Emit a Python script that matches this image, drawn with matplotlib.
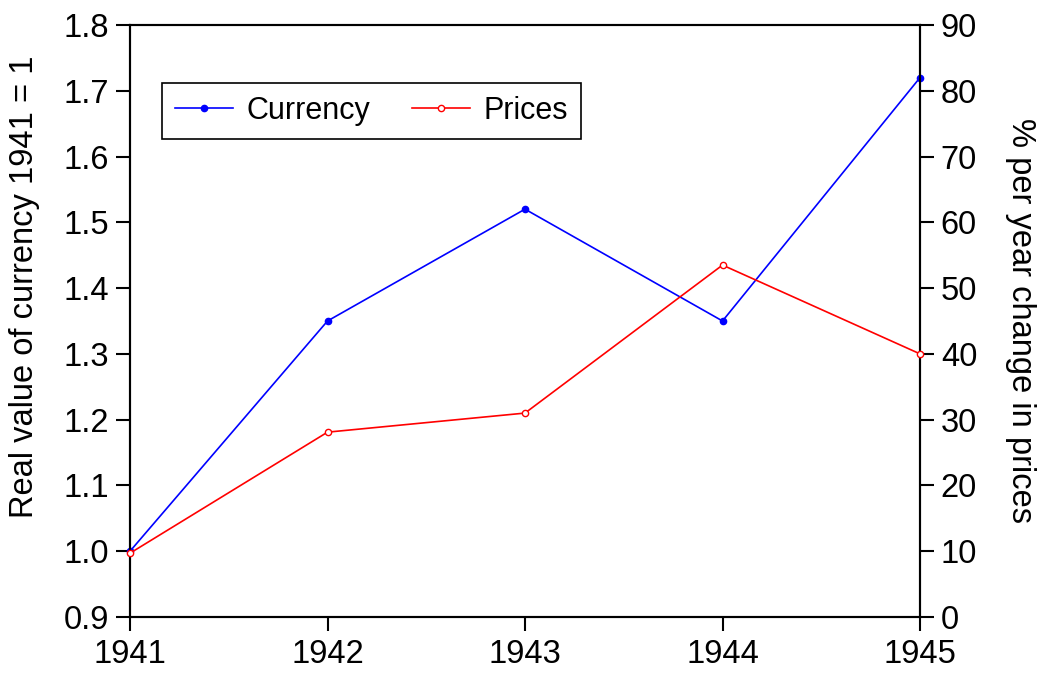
import matplotlib
matplotlib.use("Agg")
import matplotlib.pyplot as plt
from matplotlib.lines import Line2D

years = [1941, 1942, 1943, 1944, 1945]
currency = [1.00, 1.35, 1.52, 1.35, 1.72]
prices = [9.7, 28.1, 31.0, 53.5, 40.0]

plt.rcParams["font.family"] = ["Liberation Sans", "DejaVu Sans"]
plt.rcParams["font.size"] = 23.5

fig = plt.figure(figsize=(10.45, 6.73), dpi=100)
ax = fig.add_axes([0.1244, 0.0832, 0.7560, 0.8797])
ax2 = ax.twinx()

ax.plot(years, currency, color="blue", lw=1.2, marker="o", ms=4.5,
        markerfacecolor="blue", markeredgecolor="blue", clip_on=False, zorder=3)
ax2.plot(years, prices, color="red", lw=1.2, marker="o", ms=4.5,
         markerfacecolor="white", markeredgecolor="red", clip_on=False, zorder=3)

ax.set_xlim(1941, 1945)
ax.set_xticks(years)
ax.set_ylim(0.9, 1.8)
ax.set_yticks([0.9 + 0.1 * i for i in range(10)])
ax.set_yticklabels([f"{0.9 + 0.1 * i:.1f}" for i in range(10)])
ax2.set_ylim(0, 90)
ax2.set_yticks(range(0, 91, 10))

ax.set_ylabel("Real value of currency 1941 = 1", labelpad=17)
ax.yaxis.label.set_y(0.557)
ax2.set_ylabel("% per year change in prices", rotation=270, labelpad=42)

for a in (ax, ax2):
    for s in a.spines.values():
        s.set_linewidth(1.5)
    a.tick_params(direction="out", length=10, width=1.5, pad=5)
ax.tick_params(axis="x", pad=6)

handles = [
    Line2D([], [], color="blue", lw=1.2, marker="o", ms=4.5, markerfacecolor="blue"),
    Line2D([], [], color="red", lw=1.2, marker="o", ms=4.5, markerfacecolor="white"),
]
leg = ax.legend(handles, ["Currency", "Prices"], ncol=2, loc="upper left",
                bbox_to_anchor=(0.0405, 0.902), borderaxespad=0,
                fancybox=False, framealpha=1, edgecolor="black",
                handlelength=1.9, handletextpad=0.45, columnspacing=1.35,
                borderpad=0.42, fontsize=22)
leg.get_frame().set_linewidth(1.2)

fig.savefig("out.png", dpi=100)
